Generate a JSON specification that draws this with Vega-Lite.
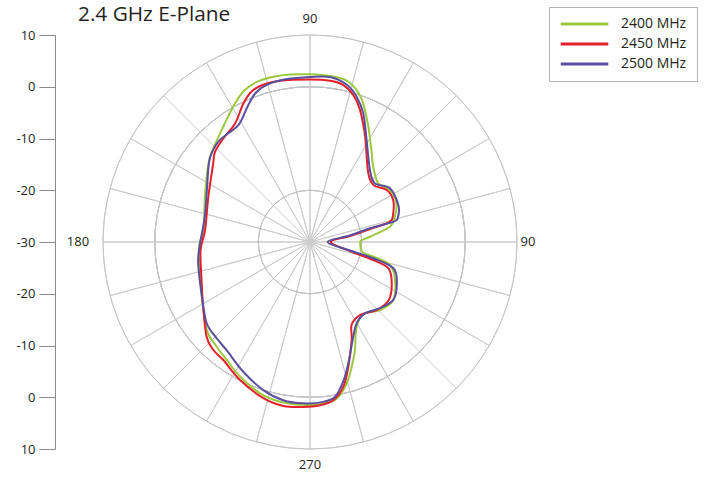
{
  "$schema": "https://vega.github.io/schema/vega-lite/v6.json",
  "width": 414,
  "height": 414,
  "autosize": {"type": "none"},
  "padding": {"left": 103, "top": 35, "right": 189, "bottom": 31},
  "background": "#ffffff",
  "config": {"view": {"stroke": null}, "font": "Open Sans"},
  "title": {"text": "2.4 GHz E-Plane", "anchor": "start", "frame": "group", "orient": "top", "fontSize": 20.8, "fontWeight": "normal", "font": "Open Sans", "color": "#231f20", "dx": -25, "dy": 35, "offset": 0, "baseline": "alphabetic"},
  "datasets": {
    "spokes": [{"w":15},{"w":15},{"w":15},{"w":15},{"w":15},{"w":15},{"w":15},{"w":15},{"w":15},{"w":15},{"w":15},{"w":15},{"w":15},{"w":15},{"w":15},{"w":15},{"w":15},{"w":15},{"w":15},{"w":15},{"w":15},{"w":15},{"w":15},{"w":15}],
    "rings": [{"db": -20}, {"db": -10}, {"db": 0}, {"db": 10}],
    "labelsTB": [{"t": "90", "a": 0}, {"t": "270", "a": 180}],
    "labelsRight": [{"t": "90", "a": 90}],
    "labelsLeft": [{"t": "180", "a": 270}],
    "pattern": [
      {"f":"2400 MHz","a":0,"g":-20.3},{"f":"2400 MHz","a":2.2,"g":-20.0},{"f":"2400 MHz","a":5.0,"g":-18.4},{"f":"2400 MHz","a":10.8,"g":-14.3},{"f":"2400 MHz","a":16.6,"g":-12.9},{"f":"2400 MHz","a":24.1,"g":-11.7},{"f":"2400 MHz","a":33.0,"g":-11.6},{"f":"2400 MHz","a":40.7,"g":-12.6},{"f":"2400 MHz","a":50.0,"g":-11.0},{"f":"2400 MHz","a":55.2,"g":-9.1},{"f":"2400 MHz","a":59.5,"g":-7.1},{"f":"2400 MHz","a":63.2,"g":-5.0},{"f":"2400 MHz","a":69.0,"g":-1.3},{"f":"2400 MHz","a":72.9,"g":0.7},{"f":"2400 MHz","a":77.2,"g":2.0},{"f":"2400 MHz","a":83.1,"g":2.3},{"f":"2400 MHz","a":90,"g":2.4},{"f":"2400 MHz","a":96.8,"g":2.6},{"f":"2400 MHz","a":102.5,"g":2.7},{"f":"2400 MHz","a":108.4,"g":2.6},{"f":"2400 MHz","a":113.9,"g":1.8},{"f":"2400 MHz","a":119.5,"g":0.1},{"f":"2400 MHz","a":126.9,"g":-2.1},{"f":"2400 MHz","a":135.9,"g":-4.0},{"f":"2400 MHz","a":142.3,"g":-5.2},{"f":"2400 MHz","a":156.7,"g":-7.9},{"f":"2400 MHz","a":173.6,"g":-9.3},{"f":"2400 MHz","a":181.6,"g":-8.6},{"f":"2400 MHz","a":194.3,"g":-8.1},{"f":"2400 MHz","a":206.8,"g":-6.6},{"f":"2400 MHz","a":220.4,"g":-3.8},{"f":"2400 MHz","a":228.3,"g":-2.9},{"f":"2400 MHz","a":234.8,"g":-2.1},{"f":"2400 MHz","a":242.5,"g":-0.7},{"f":"2400 MHz","a":251.7,"g":0.8},{"f":"2400 MHz","a":259.4,"g":1.4},{"f":"2400 MHz","a":267.6,"g":1.5},{"f":"2400 MHz","a":273.5,"g":1.4},{"f":"2400 MHz","a":279.7,"g":0.7},{"f":"2400 MHz","a":284.6,"g":-1.8},{"f":"2400 MHz","a":288.5,"g":-4.6},{"f":"2400 MHz","a":292.6,"g":-7.4},{"f":"2400 MHz","a":298.8,"g":-11.3},{"f":"2400 MHz","a":306.9,"g":-12.6},{"f":"2400 MHz","a":315.8,"g":-11.1},{"f":"2400 MHz","a":325.1,"g":-10.4},{"f":"2400 MHz","a":335.9,"g":-12.0},{"f":"2400 MHz","a":344.0,"g":-13.9},{"f":"2400 MHz","a":346.9,"g":-17.4},{"f":"2400 MHz","a":348.6,"g":-19.5},{"f":"2400 MHz","a":352.9,"g":-20.1},{"f":"2400 MHz","a":358.5,"g":-20.3},
      {"f":"2450 MHz","a":0,"g":-26.0},{"f":"2450 MHz","a":8.5,"g":-22.2},{"f":"2450 MHz","a":12.2,"g":-18.1},{"f":"2450 MHz","a":14.2,"g":-14.1},{"f":"2450 MHz","a":19.0,"g":-13.0},{"f":"2450 MHz","a":26.8,"g":-12.0},{"f":"2450 MHz","a":34.1,"g":-12.1},{"f":"2450 MHz","a":42.0,"g":-13.5},{"f":"2450 MHz","a":50.4,"g":-12.4},{"f":"2450 MHz","a":62.4,"g":-7.0},{"f":"2450 MHz","a":69.3,"g":-2.7},{"f":"2450 MHz","a":73.6,"g":-0.4},{"f":"2450 MHz","a":78.0,"g":1.0},{"f":"2450 MHz","a":82.9,"g":1.4},{"f":"2450 MHz","a":90,"g":1.4},{"f":"2450 MHz","a":100.6,"g":1.7},{"f":"2450 MHz","a":106.6,"g":1.7},{"f":"2450 MHz","a":111.2,"g":1.2},{"f":"2450 MHz","a":115.7,"g":-0.3},{"f":"2450 MHz","a":122.3,"g":-2.9},{"f":"2450 MHz","a":129.9,"g":-3.9},{"f":"2450 MHz","a":136.5,"g":-4.7},{"f":"2450 MHz","a":140.9,"g":-5.9},{"f":"2450 MHz","a":156.0,"g":-8.5},{"f":"2450 MHz","a":173.5,"g":-9.6},{"f":"2450 MHz","a":184.2,"g":-8.8},{"f":"2450 MHz","a":199.3,"g":-7.8},{"f":"2450 MHz","a":210.5,"g":-6.0},{"f":"2450 MHz","a":222.5,"g":-2.9},{"f":"2450 MHz","a":228.2,"g":-2.0},{"f":"2450 MHz","a":233.7,"g":-1.7},{"f":"2450 MHz","a":243.1,"g":-0.1},{"f":"2450 MHz","a":253.4,"g":1.5},{"f":"2450 MHz","a":260.8,"g":2.1},{"f":"2450 MHz","a":267.7,"g":1.9},{"f":"2450 MHz","a":273.5,"g":1.6},{"f":"2450 MHz","a":278.4,"g":0.9},{"f":"2450 MHz","a":283.0,"g":-1.3},{"f":"2450 MHz","a":287.1,"g":-4.8},{"f":"2450 MHz","a":293.0,"g":-9.4},{"f":"2450 MHz","a":296.7,"g":-12.1},{"f":"2450 MHz","a":304.4,"g":-12.9},{"f":"2450 MHz","a":314.4,"g":-11.6},{"f":"2450 MHz","a":323.7,"g":-11.1},{"f":"2450 MHz","a":333.2,"g":-12.3},{"f":"2450 MHz","a":341.4,"g":-14.0},{"f":"2450 MHz","a":344.1,"g":-17.3},{"f":"2450 MHz","a":347.3,"g":-22.1},
      {"f":"2500 MHz","a":0,"g":-26.6},{"f":"2500 MHz","a":9.2,"g":-22.2},{"f":"2500 MHz","a":12.9,"g":-18.1},{"f":"2500 MHz","a":13.7,"g":-13.4},{"f":"2500 MHz","a":16.0,"g":-12.3},{"f":"2500 MHz","a":22.7,"g":-11.5},{"f":"2500 MHz","a":33.9,"g":-11.4},{"f":"2500 MHz","a":42.1,"g":-13.1},{"f":"2500 MHz","a":50.2,"g":-11.9},{"f":"2500 MHz","a":60.9,"g":-7.5},{"f":"2500 MHz","a":67.5,"g":-3.1},{"f":"2500 MHz","a":72.2,"g":-0.5},{"f":"2500 MHz","a":76.8,"g":1.2},{"f":"2500 MHz","a":83.1,"g":2.1},{"f":"2500 MHz","a":90,"g":1.9},{"f":"2500 MHz","a":98.1,"g":1.8},{"f":"2500 MHz","a":105.4,"g":1.5},{"f":"2500 MHz","a":110.3,"g":0.6},{"f":"2500 MHz","a":115.3,"g":-1.4},{"f":"2500 MHz","a":121.5,"g":-3.5},{"f":"2500 MHz","a":131.4,"g":-3.7},{"f":"2500 MHz","a":137.9,"g":-4.4},{"f":"2500 MHz","a":143.5,"g":-5.6},{"f":"2500 MHz","a":164.7,"g":-9.0},{"f":"2500 MHz","a":181.6,"g":-8.7},{"f":"2500 MHz","a":190.8,"g":-8.0},{"f":"2500 MHz","a":206.8,"g":-6.6},{"f":"2500 MHz","a":218.2,"g":-4.6},{"f":"2500 MHz","a":225.9,"g":-4.1},{"f":"2500 MHz","a":232.4,"g":-3.6},{"f":"2500 MHz","a":242.8,"g":-1.8},{"f":"2500 MHz","a":252.5,"g":0.0},{"f":"2500 MHz","a":260.4,"g":1.0},{"f":"2500 MHz","a":267.6,"g":1.2},{"f":"2500 MHz","a":274.8,"g":1.0},{"f":"2500 MHz","a":279.2,"g":0.3},{"f":"2500 MHz","a":283.4,"g":-2.3},{"f":"2500 MHz","a":287.5,"g":-5.4},{"f":"2500 MHz","a":294.6,"g":-9.9},{"f":"2500 MHz","a":299.9,"g":-11.9},{"f":"2500 MHz","a":307.6,"g":-12.6},{"f":"2500 MHz","a":316.6,"g":-11.4},{"f":"2500 MHz","a":325.2,"g":-10.4},{"f":"2500 MHz","a":334.5,"g":-11.4},{"f":"2500 MHz","a":342.5,"g":-13.1},{"f":"2500 MHz","a":345.6,"g":-17.4},{"f":"2500 MHz","a":348.0,"g":-22.1}
    ]
  },
  "layer": [
    {
      "data": {"name": "spokes"},
      "mark": {"type": "arc", "filled": false, "stroke": "#cccccc", "strokeWidth": 1, "radius": 207},
      "encoding": {"theta": {"field": "w", "type": "quantitative", "stack": true, "scale": {"domain": [0, 360]}}}
    },
    {
      "data": {"name": "rings"},
      "mark": {"type": "arc", "filled": false, "strokeWidth": 1, "theta": 0, "theta2": 6.2832},
      "encoding": {
        "radius": {"field": "db", "type": "quantitative", "scale": {"type": "linear", "domain": [-30, 10], "range": [0, 207], "zero": false}},
        "stroke": {"condition": {"test": "datum.db == -20", "value": "#adadad"}, "value": "#c6c6c6"}
      }
    },
    {
      "data": {"name": "pattern"},
      "transform": [
        {"calculate": "(datum.g + 30) * cos(datum.a * PI / 180)", "as": "x"},
        {"calculate": "(datum.g + 30) * sin(datum.a * PI / 180)", "as": "y"}
      ],
      "mark": {"type": "line", "interpolate": "cardinal-closed", "strokeWidth": 2},
      "encoding": {
        "x": {"field": "x", "type": "quantitative", "scale": {"domain": [-40, 40], "nice": false, "zero": false}, "axis": null},
        "y": {"field": "y", "type": "quantitative", "scale": {"domain": [-40, 40], "nice": false, "zero": false},
          "axis": {"values": [-40, -30, -20, -10, 0, 10, 20, 30, 40], "labelExpr": "abs(datum.value) - 30", "offset": 48, "tickSize": 16, "domainColor": "#8a8a8a", "tickColor": "#8a8a8a", "labelColor": "#231f20", "labelFontSize": 13, "labelFont": "Open Sans", "title": null, "grid": false, "labelPadding": 4, "labelFlush": false, "labelOverlap": false}},
        "color": {"field": "f", "type": "nominal", "scale": {"domain": ["2400 MHz", "2450 MHz", "2500 MHz"], "range": ["#9dc83d", "#e4202a", "#5a4f9e"]},
          "legend": {"title": null, "orient": "none", "legendX": 446, "legendY": -28, "symbolType": "stroke", "symbolSize": 2266, "symbolStrokeWidth": 3, "clipHeight": 14, "labelFontSize": 14, "labelFont": "Open Sans", "labelColor": "#231f20", "labelOffset": 11, "rowPadding": 6, "padding": 10, "strokeColor": "#b3b3b3", "fillColor": "#ffffff", "cornerRadius": 0}},
        "order": {"field": "a", "type": "quantitative"}
      }
    },
    {
      "data": {"name": "labelsTB"},
      "mark": {"type": "text", "radius": 223, "fontSize": 13, "color": "#231f20", "font": "Open Sans", "align": "center", "baseline": "middle"},
      "encoding": {"theta": {"field": "a", "type": "quantitative", "scale": {"domain": [0, 360]}}, "text": {"field": "t"}}
    },
    {
      "data": {"name": "labelsRight"},
      "mark": {"type": "text", "radius": 218, "fontSize": 13, "color": "#231f20", "font": "Open Sans", "align": "center", "baseline": "middle"},
      "encoding": {"theta": {"field": "a", "type": "quantitative", "scale": {"domain": [0, 360]}}, "text": {"field": "t"}}
    },
    {
      "data": {"name": "labelsLeft"},
      "mark": {"type": "text", "radius": 232, "fontSize": 13, "color": "#231f20", "font": "Open Sans", "align": "center", "baseline": "middle"},
      "encoding": {"theta": {"field": "a", "type": "quantitative", "scale": {"domain": [0, 360]}}, "text": {"field": "t"}}
    }
  ]
}
